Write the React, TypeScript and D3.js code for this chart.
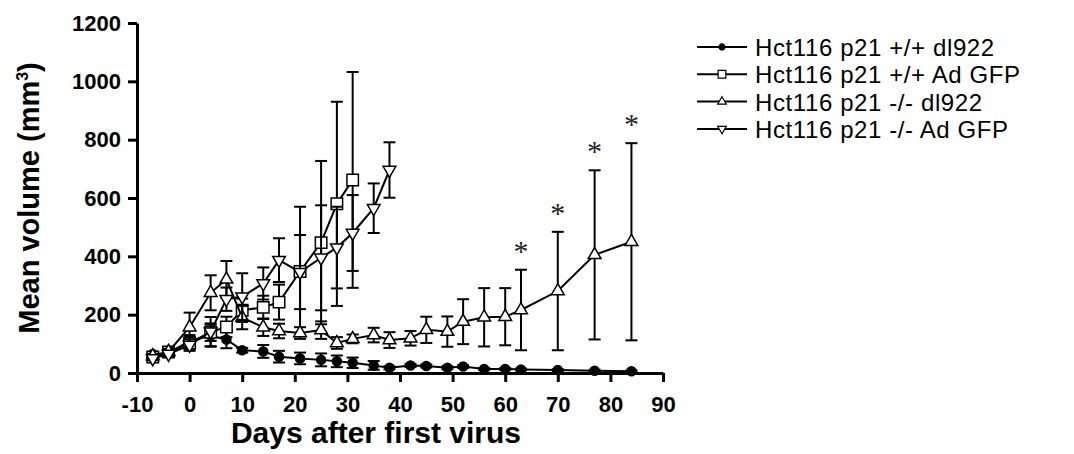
import React, { useEffect, useRef } from "react";
import * as d3 from "d3";

// days after first virus
const days = [-7, -4, 0, 4, 7, 10, 14, 17, 21, 25, 28, 31, 35, 38, 42, 45, 49, 52, 56, 60, 63, 70, 77, 84];

// Hct116 p21 +/+ dl922 (filled circles)
const wtDlMean = [65, 68, 110, 128, 115, 78, 74, 56, 50, 45, 40, 35, 26, 18, 26, 24, 18, 22, 14, 14, 12, 10, 8, 6];
const wtDlErr = [5, 8, 20, 38, 30, 8, 22, 20, 20, 22, 20, 18, 15, 5, 5, 5, 5, 5, 3, 3, 3, 3, 3, 3];

// Hct116 p21 +/+ Ad GFP (open squares), measured up to day 31
const wtGfpMean = [55, 72, 103, 140, 158, 215, 225, 243, 348, 447, 580, 662];
const wtGfpErr = [10, 15, 20, 30, 35, 40, 40, 60, 222, 280, 350, 370];

// Hct116 p21 -/- dl922 (open up-triangles)
const koDlMean = [58, 73, 157, 275, 321, 190, 157, 144, 137, 147, 103, 117, 130, 113, 119, 148, 142, 176, 191, 193, 216, 281, 405, 450];
const koDlErr = [8, 10, 50, 60, 63, 40, 30, 25, 20, 30, 20, 15, 25, 27, 25, 45, 52, 77, 100, 98, 138, 203, 290, 338];

// Hct116 p21 -/- Ad GFP (open down-triangles), measured up to day 38
const koGfpMean = [50, 65, 96, 142, 253, 262, 307, 387, 346, 395, 430, 480, 565, 696];
const koGfpErr = [6, 10, 20, 50, 40, 80, 55, 75, 127, 180, 140, 130, 85, 95];

// days marked with * (p21 -/- dl922)
const starDays = [63, 70, 77, 84];

const seriesNames = [
  "Hct116 p21 +/+ dl922",
  "Hct116 p21 +/+ Ad GFP",
  "Hct116 p21 -/- dl922",
  "Hct116 p21 -/- Ad GFP",
];

const xTicks = [-10, 0, 10, 20, 30, 40, 50, 60, 70, 80, 90];
const yTicks = [0, 200, 400, 600, 800, 1000, 1200];

const App = () => {
  const ref = useRef<HTMLDivElement>(null);

  useEffect(() => {
    if (!ref.current) return;
    d3.select(ref.current).select("svg").remove();
    const width = 1074;
    const height = 454;
    const font = "'Liberation Sans', Arial, sans-serif";

    const svg = d3
      .select(ref.current)
      .append("svg")
      .attr("width", width)
      .attr("height", height)
      .style("position", "absolute")
      .style("left", "0px")
      .style("top", "0px")
      .style("background", "#fff");

    const x = d3.scaleLinear().domain([-10, 90]).range([137, 663]);
    const y = d3.scaleLinear().domain([0, 1200]).range([373, 23]);
    const plain = (d: any) => String(d);

    // axes
    const xAxis = svg
      .append("g")
      .attr("transform", `translate(0, ${y(0)})`)
      .call(d3.axisBottom(x).tickValues(xTicks).tickFormat(plain).tickSize(9).tickSizeOuter(0).tickPadding(14));
    const yAxis = svg
      .append("g")
      .attr("transform", `translate(${x(-10)}, 0)`)
      .call(d3.axisLeft(y).tickValues(yTicks).tickFormat(plain).tickSize(9).tickSizeOuter(0).tickPadding(7));
    [xAxis, yAxis].forEach((g) => {
      g.select(".domain").attr("stroke", "#000").attr("stroke-width", 3);
      g.selectAll(".tick line").attr("stroke", "#000").attr("stroke-width", 3);
      g.selectAll(".tick text")
        .attr("fill", "#000")
        .style("font-family", font)
        .style("font-weight", "bold")
        .style("font-size", "22px");
    });

    // axis titles
    svg
      .append("text")
      .attr("x", 376)
      .attr("y", 443)
      .attr("text-anchor", "middle")
      .style("font-family", font)
      .style("font-weight", "bold")
      .style("font-size", "30px")
      .text("Days after first virus");

    const yt = svg
      .append("text")
      .attr("transform", `translate(39, ${(y(0) + y(1200)) / 2}) rotate(-90)`)
      .attr("text-anchor", "middle")
      .style("font-family", font)
      .style("font-weight", "bold")
      .style("font-size", "29px");
    yt.append("tspan").text("Mean volume (mm");
    yt.append("tspan").attr("dy", -11).style("font-size", "16px").text("3");
    yt.append("tspan").attr("dy", 11).text(")");

    const series = [
      { mean: wtDlMean, err: wtDlErr, shape: d3.symbolCircle, size: 64, rot: 0, fill: "#000" },
      { mean: wtGfpMean, err: wtGfpErr, shape: d3.symbolSquare, size: 132, rot: 0, fill: "#fff" },
      { mean: koDlMean, err: koDlErr, shape: d3.symbolTriangle, size: 70, rot: 0, fill: "#fff" },
      { mean: koGfpMean, err: koGfpErr, shape: d3.symbolTriangle, size: 70, rot: 180, fill: "#fff" },
    ];

    const line = d3
      .line<number>()
      .x((d, i) => x(days[i]))
      .y((d) => y(d));

    series.forEach((s) => {
      const g = svg.append("g");
      const pts = s.mean.map((m, i) => ({ d: days[i], m, e: s.err[i] }));
      // error bars
      const eb = g.selectAll(".eb").data(pts).enter().append("g").attr("stroke", "#000").attr("stroke-width", 2);
      eb.append("line")
        .attr("x1", (p) => x(p.d))
        .attr("x2", (p) => x(p.d))
        .attr("y1", (p) => y(p.m + p.e))
        .attr("y2", (p) => y(Math.max(0, p.m - p.e)));
      eb.append("line")
        .attr("x1", (p) => x(p.d) - 6)
        .attr("x2", (p) => x(p.d) + 6)
        .attr("y1", (p) => y(p.m + p.e))
        .attr("y2", (p) => y(p.m + p.e));
      eb.append("line")
        .attr("x1", (p) => x(p.d) - 6)
        .attr("x2", (p) => x(p.d) + 6)
        .attr("y1", (p) => y(Math.max(0, p.m - p.e)))
        .attr("y2", (p) => y(Math.max(0, p.m - p.e)));
      // connecting line
      g.append("path")
        .attr("d", line(s.mean))
        .attr("fill", "none")
        .attr("stroke", "#000")
        .attr("stroke-width", 2);
      // markers
      g.selectAll(".pt")
        .data(pts)
        .enter()
        .append("path")
        .attr("d", d3.symbol().type(s.shape).size(s.size)())
        .attr("transform", (p) => `translate(${x(p.d)}, ${y(p.m)}) rotate(${s.rot})`)
        .attr("fill", s.fill)
        .attr("stroke", "#000")
        .attr("stroke-width", 1.5);
    });

    // significance stars
    svg
      .selectAll(".star")
      .data(starDays)
      .enter()
      .append("text")
      .attr("x", (d) => x(d))
      .attr("y", (d) => {
        const i = days.indexOf(d);
        return y(koDlMean[i] + koDlErr[i]) - 24 + 15;
      })
      .attr("text-anchor", "middle")
      .attr("fill", "#222")
      .style("font-family", "'Liberation Serif', 'Times New Roman', serif")
      .style("font-size", "30px")
      .text("*");

    // legend
    const leg = svg.append("g");
    seriesNames.forEach((name, i) => {
      const s = series[i];
      const ly = 47 + i * 27.3;
      leg.append("line")
        .attr("x1", 697)
        .attr("x2", 747)
        .attr("y1", ly)
        .attr("y2", ly)
        .attr("stroke", "#000")
        .attr("stroke-width", 2);
      leg.append("path")
        .attr("d", d3.symbol().type(s.shape).size(s.size * 0.45)())
        .attr("transform", `translate(722, ${ly}) rotate(${s.rot})`)
        .attr("fill", s.fill)
        .attr("stroke", "#000")
        .attr("stroke-width", 1.2);
      leg.append("text")
        .attr("x", 755)
        .attr("y", ly + 9)
        .style("font-family", font)
        .style("font-size", "24px")
        .style("letter-spacing", "0.6px")
        .text(name);
    });
  }, []);

  return <div ref={ref}></div>;
};

export default App;
